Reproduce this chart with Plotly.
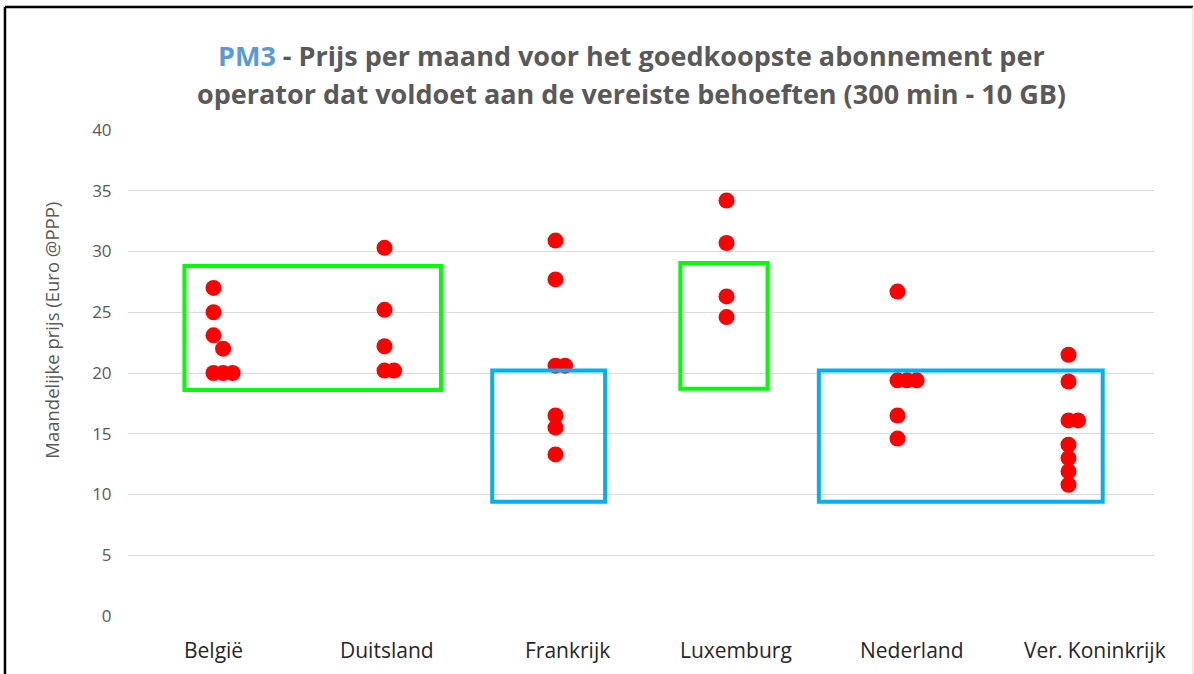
import plotly.graph_objects as go

countries = ["België", "Duitsland", "Frankrijk", "Luxemburg", "Nederland", "Ver. Koninkrijk"]

# prices per operator (Euro @PPP)
belgie = [27.0, 25.0, 23.1, 22.0, 20.0, 20.0, 20.0]
duitsland = [30.3, 25.2, 22.2, 20.2, 20.2]
frankrijk = [30.9, 27.7, 20.6, 20.6, 16.5, 15.5, 13.3]
luxemburg = [34.2, 30.7, 26.3, 24.6]
nederland = [26.7, 19.4, 19.4, 19.4, 16.5, 14.6]
vk = [21.5, 19.3, 16.1, 16.1, 14.1, 13.0, 11.9, 10.8]

# dodge slot of each dot (0 = centre, 1 = one step right, ...)
belgie_slot = [0, 0, 0, 1, 0, 1, 2]
duitsland_slot = [0, 0, 0, 0, 1]
frankrijk_slot = [0, 0, 0, 1, 0, 0, 0]
luxemburg_slot = [0, 0, 0, 0]
nederland_slot = [0, 0, 1, 2, 0, 0]
vk_slot = [0, 0, 0, 1, 0, 0, 0, 0]

series = [belgie, duitsland, frankrijk, luxemburg, nederland, vk]
slots = [belgie_slot, duitsland_slot, frankrijk_slot, luxemburg_slot, nederland_slot, vk_slot]

# highlight boxes: (x0, x1, y0, y1, colour)
boxes = [
    (-0.17, 1.33, 18.6, 28.8, "#00FF00"),
    (2.73, 3.24, 18.7, 29.05, "#00FF00"),
    (1.63, 2.29, 9.4, 20.2, "#00B0F0"),
    (3.54, 5.20, 9.4, 20.2, "#00B0F0"),
]

title_lines = [
    "<span style='color:#5B9BD5'>PM3</span> - Prijs per maand voor het goedkoopste abonnement per",
    "operator dat voldoet aan de vereiste behoeften (300 min - 10 GB)",
]

# category labels sit slightly right of the dot columns in the original (px)
label_nudge = [0, 2, 12, 9, 14, 26]

STEP = 0.056
xs, ys = [], []
for i, (vals, sl) in enumerate(zip(series, slots)):
    for v, s in zip(vals, sl):
        xs.append(i + s * STEP)
        ys.append(v)

fig = go.Figure()
fig.add_trace(go.Scatter(
    x=xs, y=ys, mode="markers",
    marker=dict(color="#FF0000", size=16, line=dict(width=0)),
    showlegend=False, hoverinfo="y",
))

for x0, x1, y0, y1, c in boxes:
    fig.add_shape(type="rect", xref="x", yref="y", x0=x0, x1=x1, y0=y0, y1=y1,
                  line=dict(color=c, width=4), fillcolor="rgba(0,0,0,0)", layer="above")

# outer frame of the chart image
fig.add_shape(type="line", xref="paper", yref="paper", x0=-0.1199, x1=1.038, y0=1.253, y1=1.253,
              line=dict(color="#000000", width=2.5))
fig.add_shape(type="line", xref="paper", yref="paper", x0=-0.1199, x1=-0.1199, y0=1.253, y1=-0.2,
              line=dict(color="#000000", width=2.5))
fig.add_shape(type="line", xref="paper", yref="paper", x0=1.038, x1=1.038, y0=1.253, y1=-0.2,
              line=dict(color="#D9D9D9", width=1))

# two-line title, set as annotations to get the wider line spacing
for line, ty in zip(title_lines, [1.154, 1.076]):
    fig.add_annotation(
        xref="paper", yref="paper", x=0.491, y=ty, yanchor="middle", showarrow=False,
        text=f"<b>{line}</b>", font=dict(size=27, color="#595959"),
    )

fig.add_annotation(
    xref="paper", yref="paper", x=-0.0887, y=0.588, textangle=-90, showarrow=False,
    text="Maandelijke prijs (Euro @PPP)", font=dict(size=18.5, color="#595959"),
)

for i, (name, dx) in enumerate(zip(countries, label_nudge)):
    fig.add_annotation(
        xref="x", yref="paper", x=i, y=0, xshift=dx, yshift=-34,
        yanchor="middle", showarrow=False, text=name,
        font=dict(size=21, color="#262626"),
    )

fig.update_layout(
    width=1194, height=674,
    margin=dict(l=128, r=40, t=130, b=58),
    paper_bgcolor="white", plot_bgcolor="white",
    font=dict(family="Open Sans, Arial, sans-serif"),
    xaxis=dict(
        range=[-0.5, 5.5], showticklabels=False,
        showgrid=False, zeroline=False, showline=False, fixedrange=True,
    ),
    yaxis=dict(
        range=[0, 40], dtick=5, showgrid=True, gridcolor="#D9D9D9", gridwidth=1,
        zeroline=False, showline=False, ticks="outside", ticklen=12, tickcolor="rgba(0,0,0,0)",
        tickfont=dict(size=17, color="#595959"), fixedrange=True,
    ),
)

fig.write_html("out.html", config={"displayModeBar": False},
               post_script="document.body.style.margin='0';")
